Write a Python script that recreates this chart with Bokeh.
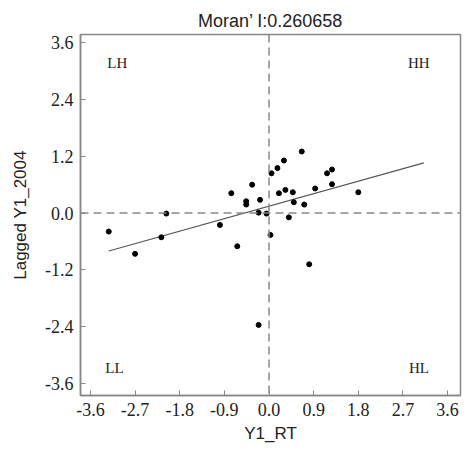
from bokeh.plotting import figure
from bokeh.models import FixedTicker, PrintfTickFormatter, Span, Label
from bokeh.embed import file_html
from bokeh.resources import INLINE

# data
y1_rt = [-3.23, -2.70, -2.17, -2.07, -0.99, -0.76, -0.64, -0.46, -0.46, -0.34,
         -0.21, -0.18, -0.05, 0.03, 0.05, 0.17, 0.20, 0.30, 0.33, 0.40,
         0.48, 0.50, 0.66, 0.71, 0.81, 0.93, 1.17, 1.27, 1.27, 1.80, -0.21]
lagged = [-0.39, -0.86, -0.51, -0.01, -0.25, 0.42, -0.70, 0.25, 0.18, 0.60,
          0.01, 0.28, -0.01, -0.46, 0.84, 0.95, 0.42, 1.11, 0.49, -0.09,
          0.44, 0.23, 1.30, 0.18, -1.08, 0.52, 0.84, 0.92, 0.61, 0.44, -2.36]
fit_x = [-3.23, 3.12]
fit_y = [-0.80, 1.06]
x_ticks = [-3.6, -2.7, -1.8, -0.9, 0.0, 0.9, 1.8, 2.7, 3.6]
y_ticks = [-3.6, -2.4, -1.2, 0.0, 1.2, 2.4, 3.6]
quadrants = ["LH", "HH", "LL", "HL"]
title_text = "Moran\u2019 I:0.260658"

p = figure(width=470, height=454, output_backend="svg", toolbar_location=None,
           x_range=(-3.8, 3.86), y_range=(-3.85, 3.77),
           min_border_left=80, min_border_right=10, min_border_top=34, min_border_bottom=59)
p.title.text = title_text
p.title.align = "center"
p.title.text_font = "Liberation Sans"
p.title.text_font_size = "18px"
p.title.text_font_style = "normal"
p.title.text_color = "#222222"
p.title.standoff = 8

p.grid.visible = False
p.outline_line_color = "#888888"
p.outline_line_width = 1.5

for ax in (p.xaxis[0], p.yaxis[0]):
    ax.axis_line_color = "#888888"
    ax.axis_line_width = 1.5
    ax.major_tick_line_color = "#888888"
    ax.major_tick_in = 5
    ax.major_tick_out = 0
    ax.minor_tick_line_color = None
    ax.major_label_text_font = "Liberation Serif"
    ax.major_label_text_font_size = "18px"
    ax.major_label_text_color = "#222222"
    ax.axis_label_text_font = "Liberation Sans"
    ax.axis_label_text_font_size = "17px"
    ax.axis_label_text_font_style = "normal"
    ax.axis_label_text_color = "#222222"
    ax.formatter = PrintfTickFormatter(format="%.1f")

p.xaxis[0].ticker = FixedTicker(ticks=x_ticks)
p.yaxis[0].ticker = FixedTicker(ticks=y_ticks)
p.xaxis[0].axis_label = "Y1_RT"
p.yaxis[0].axis_label = "Lagged Y1_2004"
p.xaxis[0].major_label_standoff = 7
p.xaxis[0].axis_label_standoff = 5
p.yaxis[0].major_label_standoff = 7
p.yaxis[0].axis_label_standoff = 12

p.add_layout(Span(location=0, dimension="width", line_color="#888888",
                  line_width=1.5, line_dash="8 5"))
p.add_layout(Span(location=0, dimension="height", line_color="#888888",
                  line_width=1.5, line_dash="8 5"))

p.line(fit_x, fit_y, line_color="#555555", line_width=1.2)
p.scatter(y1_rt, lagged, size=5, color="black")

pos = [(-3.26, 3.16), (2.80, 3.16), (-3.30, -3.28), (2.82, -3.28)]
for t, (lx, ly) in zip(quadrants, pos):
    p.add_layout(Label(x=lx, y=ly, text=t, text_font="Liberation Serif",
                       text_font_size="15px", text_baseline="middle",
                       text_align="left", text_color="#222222"))

open("out.html", "w").write(file_html(p, INLINE))
